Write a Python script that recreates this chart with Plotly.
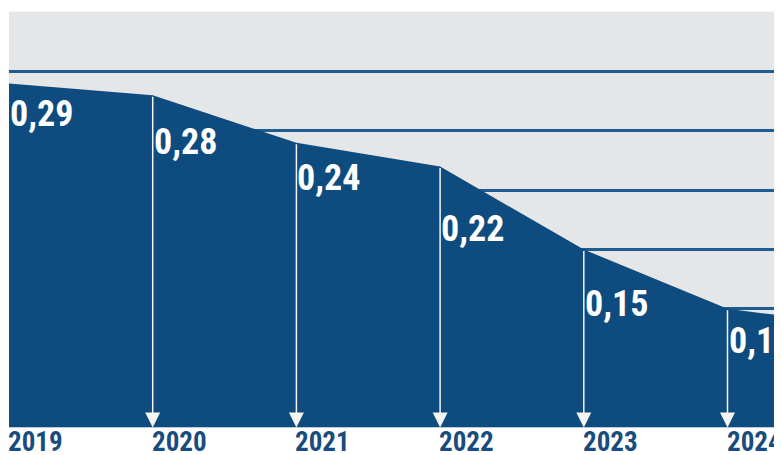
import plotly.graph_objects as go

# ---- data ----
years = [2019, 2020, 2021, 2022, 2023, 2024, 2025]
values = [0.29, 0.28, 0.24, 0.22, 0.15, 0.10, 0.085]  # 2025 estimated (cropped off the right edge)
shown_years = [2019, 2020, 2021, 2022, 2023, 2024]
grid_values = [0.10, 0.15, 0.20, 0.25, 0.30, 0.35]

# ---- style ----
AREA = "#0e4b7f"
BG = "#e4e6e8"
GRID = "#1f5b8e"
YEARCOL = "#174c7e"
FONT = "Roboto Condensed, Roboto, Liberation Sans, sans-serif"
label_drop_px = [31, 47, 35, 63, 54, 32]  # vertical placement of value labels below the line

OFF = 8                      # page body margin
PW, PH = 782, 455            # window size
W, H = PW - OFF, PH - OFF    # figure size
x_left_px, x_step_px = 9 - OFF, 143.7
y_top_px, y_zero_px = 13 - OFF, 427.5 - OFF

fig = go.Figure()
fig.add_trace(go.Scatter(
    x=years, y=values, mode="lines", fill="tozeroy",
    line=dict(width=0, color=AREA), fillcolor=AREA, hoverinfo="skip",
))

def fmt(v):
    s = f"{v:.2f}".replace(".", ",")
    return s.rstrip("0") if s.endswith("0") else s

ann = []
for i, yr in enumerate(shown_years):
    v = values[i]
    ann.append(dict(
        x=yr, y=v, xref="x", yref="y", text=f"<b>{fmt(v)}</b>", showarrow=False,
        xanchor="left", yanchor="middle", xshift=-1, yshift=-label_drop_px[i],
        font=dict(family=FONT, size=36, color="white"),
    ))
    ann.append(dict(
        x=yr, y=0, xref="x", yref="paper", text=f"<b>{yr}</b>",
        showarrow=False, xanchor="left", yanchor="bottom", xshift=-2, yshift=1,
        height=22, valign="middle", borderpad=0,
        font=dict(family=FONT, size=27, color=YEARCOL),
    ))
    if i > 0:
        ann.append(dict(
            x=yr, y=0, xref="x", yref="y", ax=yr, ay=v, axref="x", ayref="y",
            showarrow=True, arrowhead=2, arrowsize=2.0, arrowwidth=1.5,
            arrowcolor="#f4f4f0", text="", standoff=0, startstandoff=0,
        ))

x_end = years[0] + (W - x_left_px) / x_step_px
fig.update_layout(
    width=W, height=H, margin=dict(l=0, r=0, t=0, b=0),
    paper_bgcolor="white", plot_bgcolor=BG, showlegend=False,
    xaxis=dict(domain=[x_left_px / W, 1], range=[years[0], x_end],
               showgrid=False, zeroline=False, showticklabels=False, ticks=""),
    yaxis=dict(domain=[1 - y_zero_px / H, 1 - y_top_px / H + 0.003], range=[0, 0.3505],
               tickvals=grid_values, showgrid=True, gridcolor=GRID, gridwidth=2.5,
               zeroline=False, showticklabels=False, ticks=""),
    annotations=ann,
)

fig.write_html("out.html")
